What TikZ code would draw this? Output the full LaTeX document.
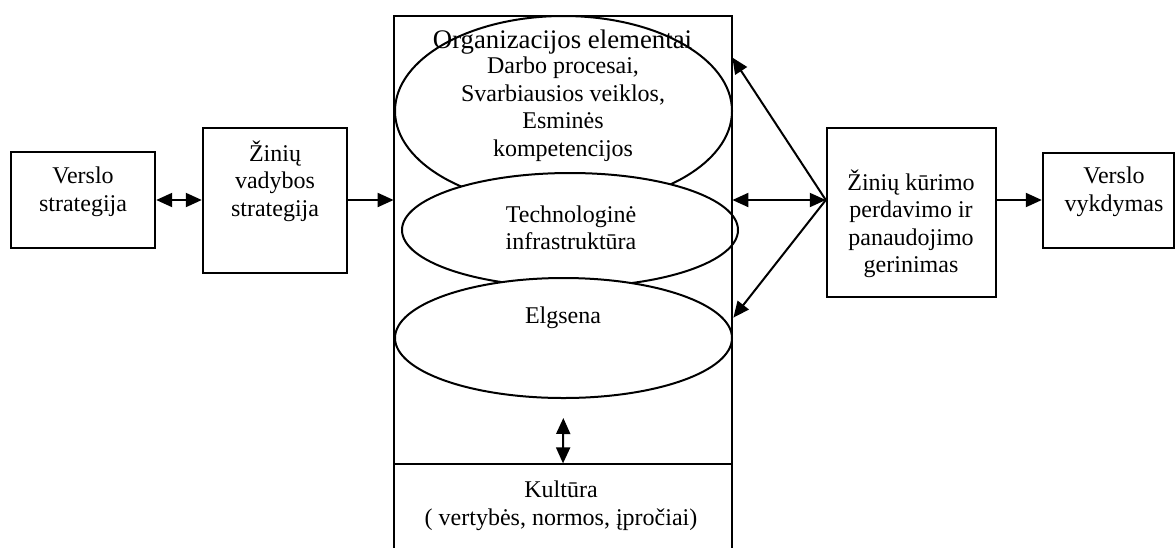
\documentclass[tikz,border=0pt]{standalone}
\usepackage{fontspec}
\setmainfont{Liberation Serif}
\usetikzlibrary{arrows.meta,shapes.geometric,calc}
\begin{document}
\begin{tikzpicture}[x=0.5pt,y=-0.5pt,
  boxed/.style={draw,line width=1.2pt,inner sep=0pt},
  oval/.style={draw,ellipse,line width=1pt,fill=white,inner sep=0pt},
  txt/.style={align=center,inner sep=0pt,font=\fontsize{12}{13.75}\selectfont},
  title/.style={inner sep=0pt,font=\fontsize{13.4}{15}\selectfont},
  conn/.style={line width=1pt,-{Triangle[length=8pt,width=7pt]}},
  conn2/.style={line width=1pt,{Triangle[length=8pt,width=7pt]}-{Triangle[length=8pt,width=7pt]}}]
\clip (0,0) rectangle (1176,547);

% strategy boxes on the left
\node[boxed,minimum width=72pt,minimum height=48pt] (vs) at (83,200) {};
\node[txt] (vst) at (83,192) {Verslo\\strategija};
\node[boxed,minimum width=72pt,minimum height=72.5pt] (zvs) at (275,200.5) {};
\node[txt] (zvst) at (275,181) {Žinių\\vadybos\\strategija};

% organisation elements: three overlapping ellipses
\node[oval,minimum width=168.5pt,minimum height=95pt] (e1) at (563.5,111) {};
\node[txt] (e1t) at (563,109) {Darbo procesai,\\Svarbiausios veiklos,\\Esminės\\kompetencijos};
\node[oval,minimum width=168pt,minimum height=57pt] (e2) at (570,230) {};
\node[txt] (e2t) at (571,228) {Technologinė\\infrastruktūra};
\node[oval,minimum width=168.5pt,minimum height=60pt] (e3) at (563.5,338) {};
\node[txt] (e3t) at (563,318) {Elgsena};
\node[title] (orgt) at (562.5,42) {Organizacijos elementai};

% frame around the elements and the culture base
\node[inner sep=0pt,minimum width=169pt,minimum height=223.5pt] (org) at (563,239.5) {};
\draw[line width=1pt] (org.south west) -- (org.north west) -- (org.north east) -- (org.south east);
\node[draw,line width=1pt,inner sep=0pt,minimum width=169pt,minimum height=45pt,anchor=north] (cult) at (org.south) {};
\node[txt] (cultt) at (561,506) {Kultūra\\( vertybės, normos, įpročiai)};
\draw[conn2,shorten <=9.5pt] (e3.south) -- (cult.north);

% right-hand boxes
\node[boxed,minimum width=84.5pt,minimum height=84.5pt] (kr) at (911.5,212.5) {};
\node[txt] (krt) at (911,224) {Žinių kūrimo\\perdavimo ir\\panaudojimo\\gerinimas};
\node[boxed,minimum width=65.5pt,minimum height=47.5pt] (vy) at (1108.5,200.5) {};
\node[txt] (vyt) at (1114,192) {Verslo\\vykdymas};

% connectors
\coordinate (hub) at ($(kr.west)+(0,-12.5)$);
\coordinate (up) at ($(org.north east)+(0,42)$);
\coordinate (dn) at ($(org.north east)+(1,302)$);
\draw[conn2] (vs.east) -- (vs.east -| zvs.west);
\draw[conn] (zvs.east |- vs.east) -- (vs.east -| org.west);
\draw[conn2] (hub -| org.east) -- (hub);
\draw[conn] (hub) -- (up);
\draw[conn] (hub) -- (dn);
\draw[conn] (hub -| kr.east) -- (hub -| vy.west);
\end{tikzpicture}
\end{document}
